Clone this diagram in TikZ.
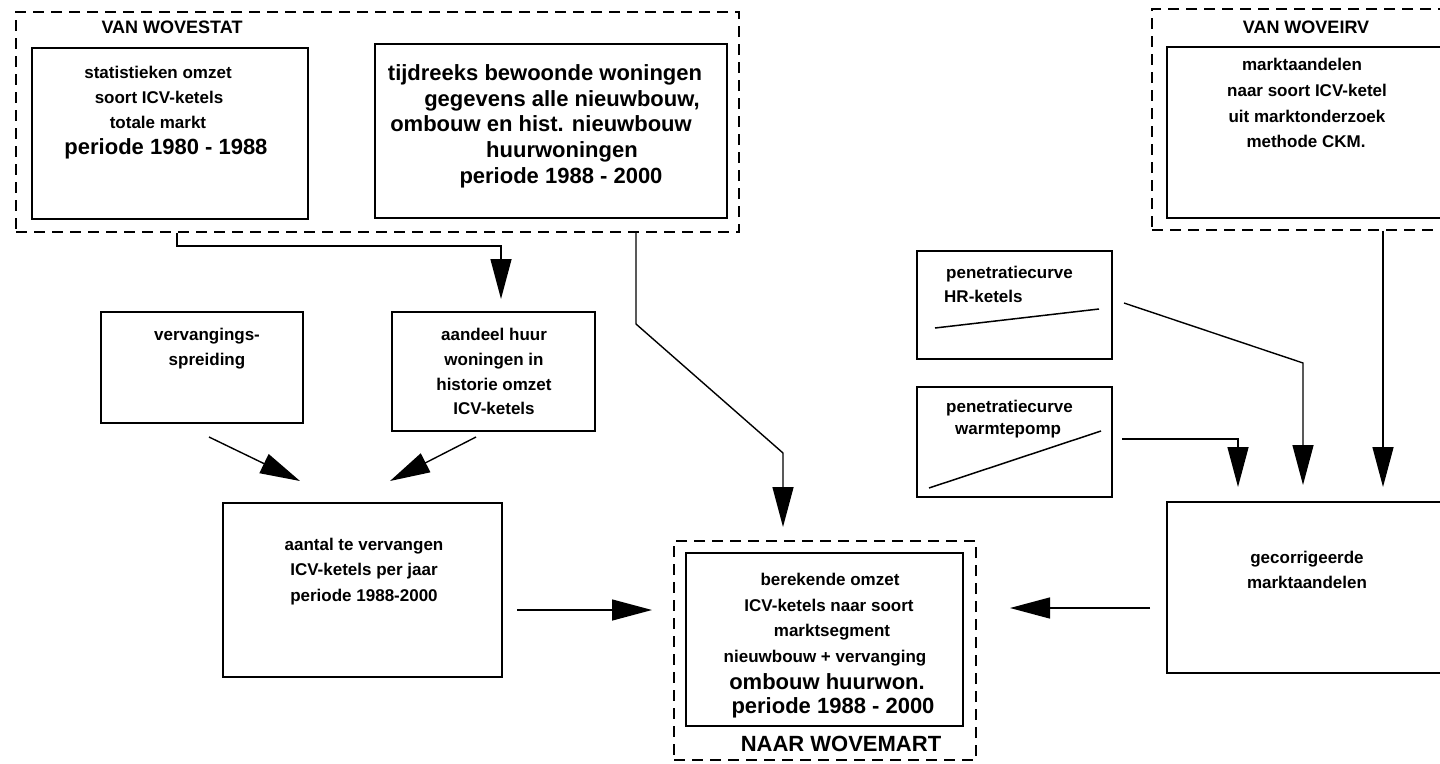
\documentclass[tikz,border=0pt]{standalone}
\usepackage{fontspec}
\setmainfont{Liberation Sans}
\usetikzlibrary{arrows.meta,fit}

\tikzset{
  box/.style={draw, line width=1.8pt, inner sep=0pt},
  dbox/.style={draw, line width=1.5pt, dash pattern=on 11pt off 7pt, inner sep=0pt},
  sm/.style={font=\fontsize{17}{20}\selectfont\bfseries, inner sep=0pt, anchor=base},
  lg/.style={font=\fontsize{22}{26}\selectfont\bfseries, inner sep=0pt, anchor=base},
  hd/.style={font=\fontsize{18}{22}\selectfont\bfseries, inner sep=0pt, anchor=base},
  conn/.style={line width=1.4pt},
  arr/.style={conn, -{Triangle[length=40pt,width=21pt]}},
  curve/.style={line width=1.5pt},
}

\begin{document}
\begin{tikzpicture}[x=1pt,y=-1pt]
\clip (0,0) rectangle (1440,763);
\useasboundingbox (0,0) rectangle (1440,763);

% ---- source group: WOVESTAT ----
\node[dbox, fit={(16,12) (739,232)}] (wovestat) {};
\node[hd] (wovestatlbl) at (172,33) {VAN WOVESTAT};
\node[box, fit={(32,48) (308,219)}] (stat) {};
\node[sm] (stat1) at (158,78) {statistieken omzet};
\node[sm] (stat2) at (159,103) {soort ICV-ketels};
\node[sm] (stat3) at (158,128) {totale markt};
\node[lg] (stat4) at (166,154) {periode 1980 - 1988};

\node[box, fit={(375,44) (727,218)}] (tijd) {};
\node[lg] (tijd1) at (545,80) {tijdreeks bewoonde woningen};
\node[lg] (tijd2) at (562,106) {gegevens alle nieuwbouw,};
\node[lg] (tijd3) at (541,131) {ombouw en hist. nieuwbouw};
\node[lg] (tijd4) at (562,157) {huurwoningen};
\node[lg] (tijd5) at (561,183) {periode 1988 - 2000};

% ---- source group: WOVEIRV ----
\node[dbox, fit={(1152,9) (1460,230)}] (woveirv) {};
\node[hd] (woveirvlbl) at (1306,33) {VAN WOVEIRV};
\node[box, fit={(1167,47) (1460,218)}] (markt) {};
\node[sm] (markt1) at (1302,70) {marktaandelen};
\node[sm] (markt2) at (1307,96) {naar soort ICV-ketel};
\node[sm] (markt3) at (1307,122) {uit marktonderzoek};
\node[sm] (markt4) at (1306,147) {methode CKM.};

% ---- intermediate boxes ----
\node[box, fit={(101,312) (303,423)}] (verv) {};
\node[sm] (verv1) at (207,340) {vervangings-};
\node[sm] (verv2) at (207,365) {spreiding};

\node[box, fit={(392,312) (595,431)}] (aand) {};
\node[sm] (aand1) at (494,340) {aandeel huur};
\node[sm] (aand2) at (494,365) {woningen in};
\node[sm] (aand3) at (494,390) {historie omzet};
\node[sm] (aand4) at (494,414) {ICV-ketels};

\node[box, fit={(223,503) (502,677)}] (aantal) {};
\node[sm] (aantal1) at (364,550) {aantal te vervangen};
\node[sm] (aantal2) at (364,575) {ICV-ketels per jaar};
\node[sm] (aantal3) at (364,601) {periode 1988-2000};

\node[box, fit={(917,251) (1112,359)}] (hr) {};
\node[sm, anchor=base west] (hr1) at (946,278) {penetratiecurve};
\node[sm, anchor=base west] (hr2) at (944,302) {HR-ketels};
\draw[curve] (935,328) -- (1099,309);

\node[box, fit={(917,387) (1112,497)}] (wp) {};
\node[sm, anchor=base west] (wp1) at (946,412) {penetratiecurve};
\node[sm, anchor=base west] (wp2) at (955,434) {warmtepomp};
\draw[curve] (929,488) -- (1101,431);

\node[box, fit={(1167,502) (1460,673)}] (gecorr) {};
\node[sm] (gecorr1) at (1307,563) {gecorrigeerde};
\node[sm] (gecorr2) at (1307,588) {marktaandelen};

% ---- result group: WOVEMART ----
\node[dbox, fit={(674,541) (976,760)}] (wovemart) {};
\node[box, fit={(686,553) (963,726)}] (omzet) {};
\node[sm] (omzet1) at (830,585) {berekende omzet};
\node[sm] (omzet2) at (829,611) {ICV-ketels naar soort};
\node[sm] (omzet3) at (832,636) {marktsegment};
\node[sm] (omzet4) at (825,662) {nieuwbouw + vervanging};
\node[lg] (omzet5) at (827,689) {ombouw huurwon.};
\node[lg] (omzet6) at (833,713) {periode 1988 - 2000};
\node[lg] (wovemartlbl) at (841,751) {NAAR WOVEMART};

% ---- connector end points ----
\coordinate (k1) at (177,246);
\coordinate (k2) at (501,246);
\coordinate (k2tip) at (501,299);
\coordinate (t1) at (636,324);
\coordinate (t2) at (783,453);
\coordinate (t2tip) at (783,527);
\coordinate (v0) at (209,437);
\coordinate (v1) at (300,481);
\coordinate (a0) at (476,437);
\coordinate (a1) at (390,481);
\coordinate (n0) at (517,610);
\coordinate (n1) at (652,610);
\coordinate (g0) at (1150,608);
\coordinate (g1) at (1010,608);
\coordinate (h0) at (1124,303);
\coordinate (h1) at (1303,363);
\coordinate (h2) at (1303,485);
\coordinate (w0) at (1122,439);
\coordinate (w1) at (1238,439);
\coordinate (w2) at (1238,487);
\coordinate (m0) at (1383,230);
\coordinate (m1) at (1383,487);

% ---- connectors ----
\draw[arr] (k1 |- wovestat.south) -- (k1) -- (k2) -- (k2tip);
\draw[arr] (t1 |- wovestat.south) -- (t1) -- (t2) -- (t2tip);
\draw[arr] (v0) -- (v1);
\draw[arr] (a0) -- (a1);
\draw[arr] (n0) -- (n1);
\draw[arr] (g0) -- (g1);
\draw[arr] (h0) -- (h1) -- (h2);
\draw[arr] (w0) -- (w1) -- (w2);
\draw[arr] (m0 |- woveirv.south) -- (m1);
\end{tikzpicture}
\end{document}
